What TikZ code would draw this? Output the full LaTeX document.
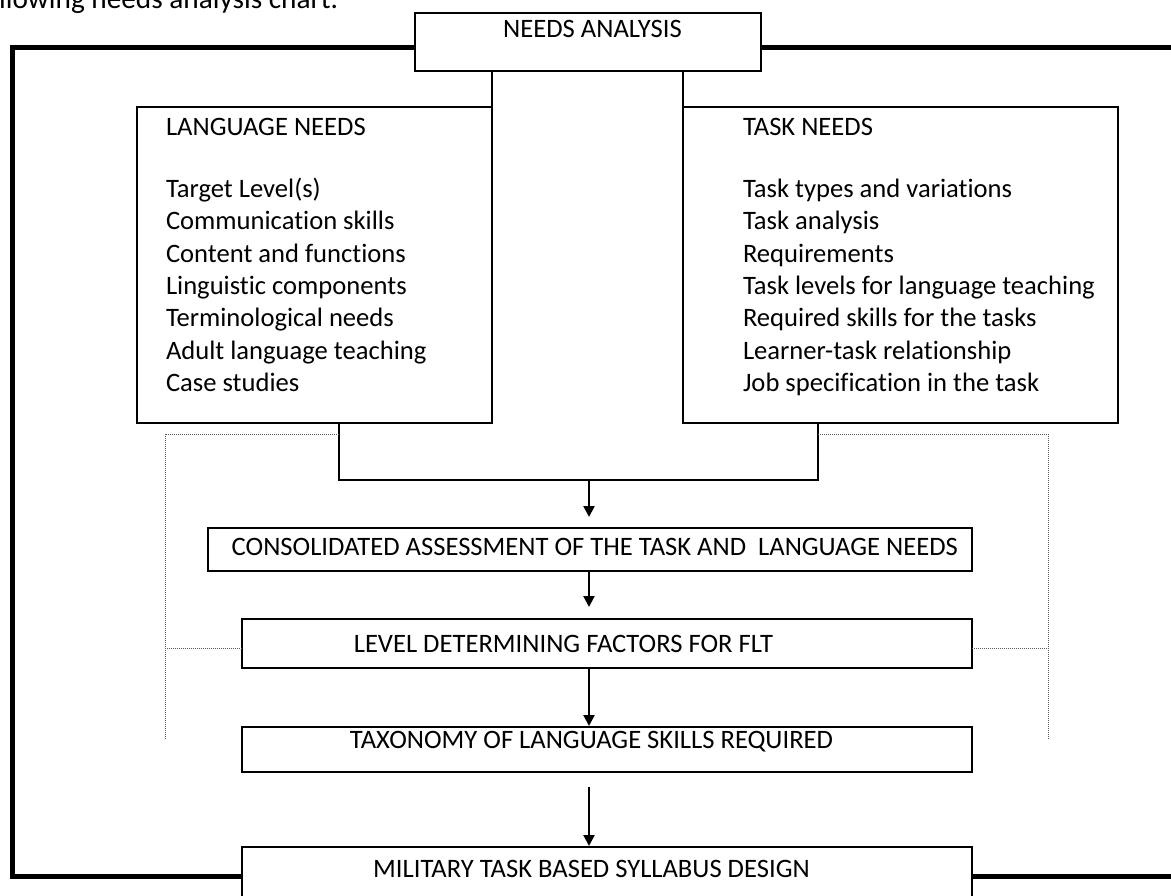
\documentclass[tikz,border=0pt]{standalone}
\usepackage{fontspec}
\setmainfont[Ligatures=NoCommon]{Carlito}
\usetikzlibrary{arrows.meta,calc}
\tikzset{
  box/.style={draw, line width=2.2pt, inner sep=0pt, outer sep=0pt},
  txt/.style={font=\fontsize{26.6}{32.3}\selectfont, inner sep=0pt, outer sep=0pt},
  frame/.style={line width=5pt},
  conn/.style={line width=2.2pt},
  arr/.style={line width=2.2pt, -{Triangle[width=11pt,length=11pt]}},
  dotline/.style={line width=1pt, gray!70!black, dash pattern=on 1pt off 1pt}
}
\begin{document}
\begin{tikzpicture}[x=1pt,y=-1pt]
\useasboundingbox (0,0) rectangle (1171,895);
% caption
\node[font=\fontsize{29.3}{35}\selectfont, inner sep=0pt, anchor=base west] (cap) at (-1,8.5) {llowing needs analysis chart.};
% boxes
\node[box, minimum width=346pt, minimum height=58pt] (na) at (588,42) {};
\node[box, minimum width=355pt, minimum height=316pt] (lang) at (314.5,265) {};
\node[box, minimum width=435pt, minimum height=316pt] (task) at (900.5,265) {};
\node[box, line width=2.7pt, minimum width=764pt, minimum height=43pt] (cons) at (590,549.5) {};
\node[box, minimum width=730pt, minimum height=49pt] (lev) at (607,643.5) {};
\node[box, minimum width=730pt, minimum height=45pt] (tax) at (607,749.5) {};
\node[box, minimum width=730pt, minimum height=58pt] (mil) at (607,876) {};
% texts
\node[txt, anchor=base] (nat) at (592.5,37) {NEEDS ANALYSIS};
\node[txt, anchor=base west] (lh) at (166,135) {LANGUAGE NEEDS};
\node[txt, anchor=base west] (th) at (743,135) {TASK NEEDS};
\foreach \t [count=\i from 2] in {Target Level(s),Communication skills,Content and functions,Linguistic components,Terminological needs,Adult language teaching,Case studies}
  \node[txt, anchor=base west] (li\i) at (166,{133+32.3*\i}) {\t};
\foreach \t [count=\i from 2] in {Task types and variations,Task analysis,Requirements,Task levels for language teaching,Required skills for the tasks,Learner-task relationship,Job specification in the task}
  \node[txt, anchor=base west] (ti\i) at (743,{133+32.3*\i}) {\t};
\node[txt, anchor=base east] (const) at (958,555) {CONSOLIDATED ASSESSMENT OF THE TASK AND\hspace{12pt}LANGUAGE NEEDS};
\node[txt, anchor=base] (levt) at (563.5,652) {LEVEL DETERMINING FACTORS FOR FLT};
\node[txt, anchor=base] (taxt) at (591.5,748) {TAXONOMY OF LANGUAGE SKILLS REQUIRED};
\node[txt, anchor=base] (milt) at (591.5,877) {MILITARY TASK BASED SYLLABUS DESIGN};
% frame
\coordinate (ftl) at (12,47.5);
\coordinate (fbl) at (12,876);
\coordinate (ftr) at (1176,47.5);
\coordinate (fbr) at (1176,876);
\draw[frame] (na.west |- ftl) -- (ftl) -- (fbl) -- (mil.west |- fbl);
\draw[frame] (na.east |- ftr) -- (ftr);
\draw[frame] (mil.east |- fbr) -- (fbr);
% connectors from needs analysis
\draw[conn] (na.south -| lang.north east) -- (lang.north east);
\draw[conn] (na.south -| task.north west) -- (task.north west);
% join
\coordinate (jl) at (339,480);
\coordinate (jr) at (818,480);
\coordinate (jm) at (589,480);
\draw[conn] (lang.south -| jl) -- (jl) -- (jr) -- (task.south -| jr);
\draw[arr, shorten >=11pt] (jm) -- (cons.north -| jm);
\draw[arr, shorten >=12pt] (cons.south -| jm) -- (lev.north -| jm);
\draw[arr, shorten >=1pt] (lev.south -| jm) -- (tax.north -| jm);
\draw[arr, shorten <=15pt, shorten >=1pt] (tax.south -| jm) -- (mil.north -| jm);
% dotted guides
\coordinate (dtl) at (165,434);
\coordinate (dbl) at (165,740);
\coordinate (dml) at (165,648);
\coordinate (dtr) at (1048,434);
\coordinate (dbr) at (1048,740);
\coordinate (dmr) at (1048,648);
\draw[dotline] (jl |- dtl) -- (dtl) -- (dbl);
\draw[dotline] (lev.west |- dml) -- (dml);
\draw[dotline] (jr |- dtr) -- (dtr) -- (dbr);
\draw[dotline] (lev.east |- dmr) -- (dmr);
\end{tikzpicture}
\end{document}
